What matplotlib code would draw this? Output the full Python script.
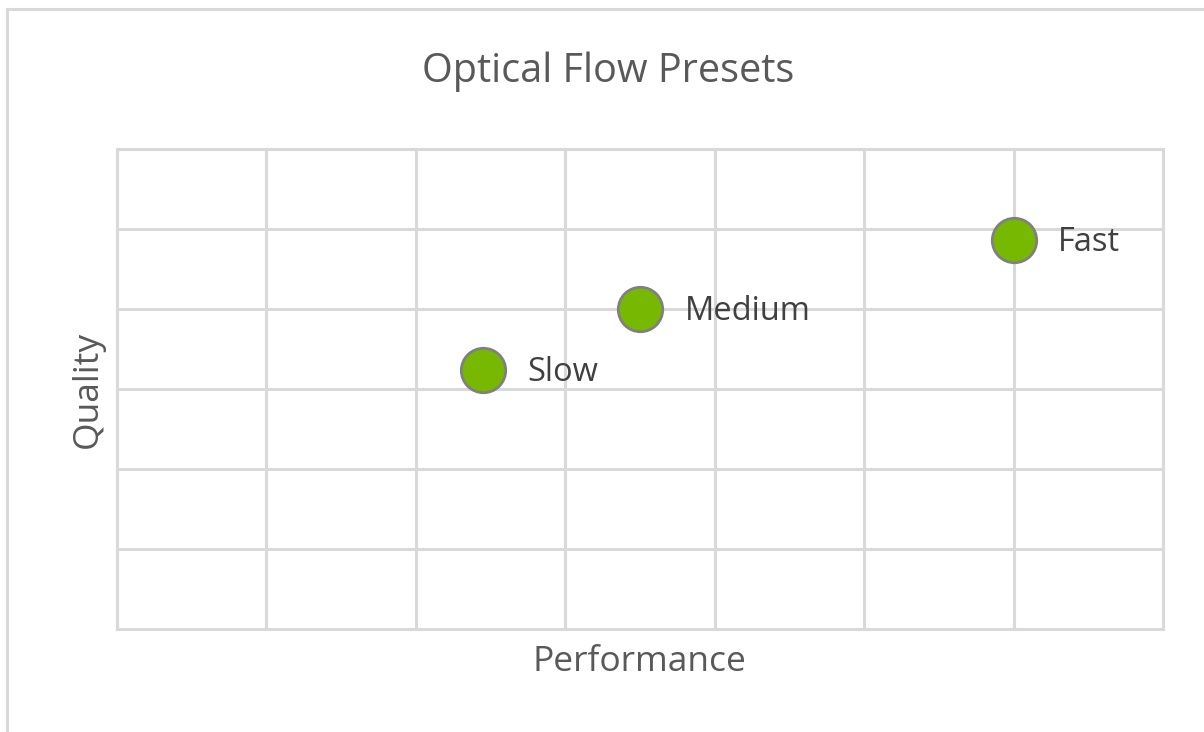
import matplotlib
matplotlib.use("Agg")
import matplotlib.pyplot as plt
from matplotlib.patches import Rectangle

presets = ["Slow", "Medium", "Fast"]
performance = [2.45, 3.5, 6.0]
quality = [3.24, 4.0, 4.86]

W, H = 1204, 732
fig = plt.figure(figsize=(W / 100, H / 100), dpi=100)
plt.rcParams['font.family'] = ['Open Sans', 'DejaVu Sans']

# outer chart border (extends beyond image right/bottom)
fig.patches.append(Rectangle((6.5 / W, -0.1), 1.2, (H - 8.5) / H + 0.1,
                             transform=fig.transFigure, fill=False,
                             edgecolor='#d9d9d9', linewidth=2.2))

ax = fig.add_axes([117 / W, (H - 629) / H, (1163 - 117) / W, (629 - 149) / H])
ax.set_xlim(0, 7)
ax.set_ylim(0, 6)
ax.set_xticks(range(0, 8))
ax.set_yticks(range(0, 7))
ax.grid(True, color='#d9d9d9', linewidth=2.2)
ax.tick_params(length=0, labelbottom=False, labelleft=False)
for s in ax.spines.values():
    s.set_color('#d9d9d9')
    s.set_linewidth(2.2)
ax.set_axisbelow(True)

ax.scatter(performance, quality, s=32 ** 2, color='#76B900',
           edgecolors='#808080', linewidths=2.0, zorder=3, clip_on=False)
for x, y, name in zip(performance, quality, presets):
    ax.annotate(name, (x, y), xytext=(32, -2), textcoords='offset points',
                va='center', ha='left', fontsize=23.5, color='#404040')

fig.text(608.5 / W, 1 - 72 / H, "Optical Flow Presets",
         ha='center', va='center', fontsize=28.5, color='#595959')
fig.text(639.5 / W, 1 - 662 / H, "Performance",
         ha='center', va='center', fontsize=25.5, color='#595959')
fig.text(88 / W, 1 - 389 / H, "Quality", rotation=90,
         ha='center', va='center', fontsize=25.5, color='#595959')

fig.savefig("out.png", dpi=100)
